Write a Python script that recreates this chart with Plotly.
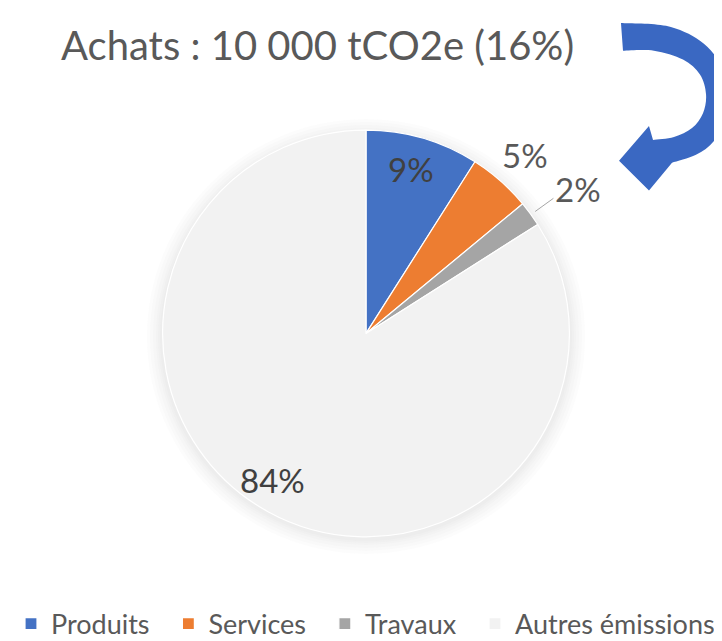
import math
import plotly.graph_objects as go

# ---- data ----
categories = ["Produits", "Services", "Travaux", "Autres émissions"]
shares = [9, 5, 2, 84]
colors = ["#4472C4", "#ED7D31", "#A5A5A5", "#F2F2F2"]
title_text = "Achats : 10 000 tCO2e (16%)"

W, H = 722, 641
FONT = "Lato, 'Open Sans', sans-serif"

# pie placement (pixels)
cx, cy, R = 358, 328, 205


def px(x):
    return x / W


def py(y):
    return 1 - y / H


# legend entries (except the last) get a little trailing padding for spacing
legend_labels = [c + ("\u00a0" * 2 if i < len(categories) - 1 else "")
                 for i, c in enumerate(categories)]

fig = go.Figure()

fig.add_trace(go.Pie(
    labels=legend_labels,
    values=shares,
    sort=False,
    direction="clockwise",
    rotation=0,
    marker=dict(colors=colors, line=dict(color="white", width=1.2)),
    textinfo="none",
    domain=dict(x=[px(cx - R), px(cx + R)], y=[py(cy + R), py(cy - R)]),
    customdata=categories,
    hovertemplate="%{customdata}<br>%{percent}<extra></extra>",
))

shapes = []
annotations = []

# soft shadow around the pie
for d in (14, 11, 8, 5, 3, 1):
    shapes.append(dict(
        type="circle", xref="paper", yref="paper", layer="below",
        x0=px(cx - R - d), x1=px(cx + R + d),
        y0=py(cy + 3 + R + d), y1=py(cy + 3 - R - d),
        fillcolor="rgba(150,150,150,0.026)", line=dict(width=0),
    ))

# percentage labels, placed from the data (mid-angle of every slice)
total = sum(shares)
label_radius = [0.84, 1.17, None, 0.82]   # None -> label with leader line
label_xshift = [-3, 0, 0, -13]
cum = 0
for idx, v in enumerate(shares):
    pct = v / total
    mid = (cum + pct / 2) * 2 * math.pi
    cum += pct
    txt = "%d%%" % round(pct * 100)
    sx, sy = math.sin(mid), -math.cos(mid)
    rf = label_radius[idx]
    if rf is not None:
        inside = rf < 1
        annotations.append(dict(
            text=txt, xref="paper", yref="paper",
            x=px(cx + sx * R * rf), y=py(cy + sy * R * rf),
            xshift=label_xshift[idx],
            xanchor="center", yanchor="middle", showarrow=False,
            font=dict(family=FONT, size=33, color="#404040" if inside else "#595959"),
        ))
    else:
        x0, y0 = cx + sx * R * 1.02, cy + sy * R * 1.02
        x1, y1 = cx + sx * R * 1.13, cy + sy * R * 1.13
        shapes.append(dict(type="line", xref="paper", yref="paper",
                           x0=px(x0), y0=py(y0), x1=px(x1), y1=py(y1),
                           line=dict(color="#A6A6A6", width=1)))
        annotations.append(dict(
            text=txt, xref="paper", yref="paper",
            x=px(x1), y=py(y1 - 9), xanchor="left", yanchor="middle",
            showarrow=False,
            font=dict(family=FONT, size=33, color="#595959"),
        ))


def catmull(points):
    segs = []
    for i in range(len(points) - 1):
        p0 = points[i - 1] if i > 0 else points[i]
        p1 = points[i]
        p2 = points[i + 1]
        p3 = points[i + 2] if i + 2 < len(points) else p2
        c1 = (p1[0] + (p2[0] - p0[0]) / 6, p1[1] + (p2[1] - p0[1]) / 6)
        c2 = (p2[0] - (p3[0] - p1[0]) / 6, p2[1] - (p3[1] - p1[1]) / 6)
        segs.append("C%.4f,%.4f %.4f,%.4f %.4f,%.4f" % (
            px(c1[0]), py(c1[1]), px(c2[0]), py(c2[1]), px(p2[0]), py(p2[1])))
    return " ".join(segs)


# curved arrow (decoration)
outer = [(613, 15), (658, 18), (692, 33), (713, 57), (721, 84), (718, 111),
         (706, 134), (688, 148), (664, 156)]
inner = [(645, 133), (666, 130), (684, 121), (695, 106), (698, 87),
         (692, 67), (675, 52), (646, 43), (615, 43)]
head_low = (641, 184)
tip = (611, 154)
head_up = (641, 119)

path = "M%.4f,%.4f " % (px(outer[0][0]), py(outer[0][1]))
path += catmull(outer)
path += " L%.4f,%.4f L%.4f,%.4f L%.4f,%.4f" % (
    px(head_low[0]), py(head_low[1]), px(tip[0]), py(tip[1]), px(head_up[0]), py(head_up[1]))
path += " L%.4f,%.4f " % (px(inner[0][0]), py(inner[0][1]))
path += catmull(inner)
path += " Z"
shapes.append(dict(type="path", xref="paper", yref="paper", path=path,
                   fillcolor="#3A68C2", line=dict(width=0), layer="above"))

annotations.append(dict(
    text=title_text, xref="paper", yref="paper",
    x=px(51), y=py(37), xanchor="left", yanchor="middle",
    showarrow=False, font=dict(family=FONT, size=40, color="#595959"),
))

fig.update_layout(
    width=W, height=H,
    margin=dict(l=0, r=0, t=0, b=0),
    paper_bgcolor="white",
    plot_bgcolor="white",
    shapes=shapes,
    annotations=annotations,
    legend=dict(
        orientation="h", x=px(3), xanchor="left", y=py(621), yanchor="middle",
        font=dict(family=FONT, size=27, color="#595959"),
        itemclick=False,
    ),
)

fig.write_html("out.html")
